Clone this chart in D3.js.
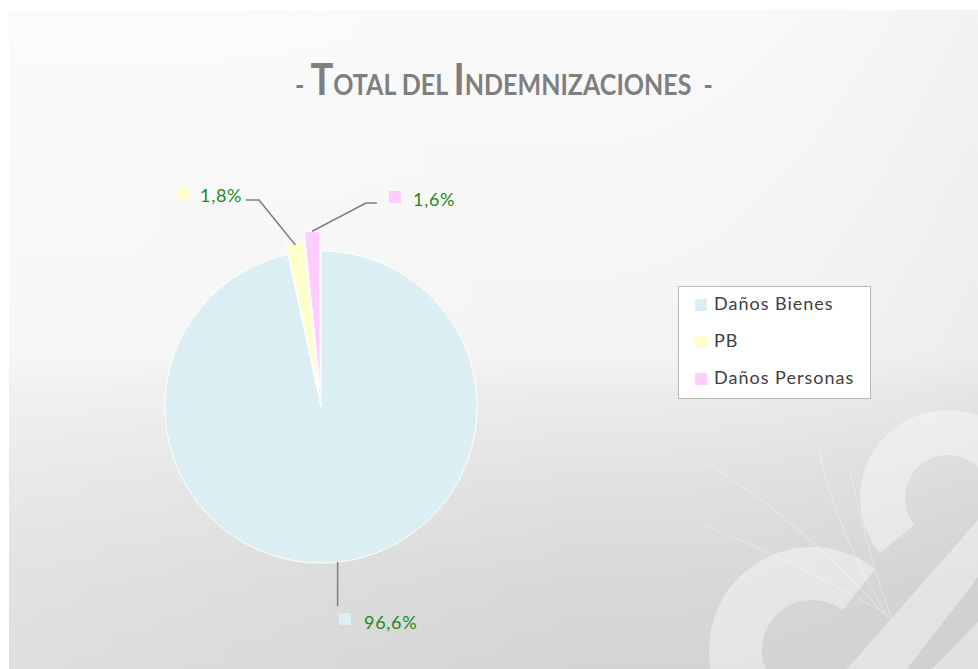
<!DOCTYPE html>
<html>
<head>
<meta charset="utf-8">
<script src="https://cdn.jsdelivr.net/npm/d3@7"></script>
<style>
  html, body { margin: 0; padding: 0; background: #ffffff; }
  svg { display: block; }
</style>
</head>
<body>
<svg id="chart" width="978" height="669"></svg>
<script>
// Chart data
const categories = ["Daños Bienes", "PB", "Daños Personas"];
const values = [96.6, 1.8, 1.6];
const sliceColors = ["#daeef3", "#ffffcc", "#ffccff"];
const explode = [0, 10, 20];
const titleParts = [
  { text: "- ", big: false },
  { text: "T", big: true },
  { text: "OTAL DEL ", big: false },
  { text: "I", big: true },
  { text: "NDEMNIZACIONES  -", big: false }
];

const W = 978, H = 669;
const FONT = "Lato, 'Open Sans', sans-serif";
const svg = d3.select("#chart");
const defs = svg.append("defs");

// Panel background: light on top, grey towards the bottom
const bg = defs.append("linearGradient").attr("id", "bgGrad")
  .attr("x1", 0).attr("y1", 0).attr("x2", 0).attr("y2", 1);
[[0, "#fafafa"], [0.52, "#f4f4f4"], [0.58, "#ececec"], [0.72, "#e1e1e1"],
 [0.87, "#d8d8d8"], [1, "#d4d4d4"]].forEach(([o, c]) =>
  bg.append("stop").attr("offset", o).attr("stop-color", c));

const side = defs.append("linearGradient").attr("id", "sideGrad")
  .attr("x1", 0).attr("y1", 0).attr("x2", 1).attr("y2", 0);
side.append("stop").attr("offset", 0).attr("stop-color", "#ffffff").attr("stop-opacity", 0.25);
side.append("stop").attr("offset", 0.6).attr("stop-color", "#ffffff").attr("stop-opacity", 0);
side.append("stop").attr("offset", 1).attr("stop-color", "#000000").attr("stop-opacity", 0.03);

const panel = { x: 9, y: 10 };
svg.append("rect").attr("x", panel.x).attr("y", panel.y)
  .attr("width", W - panel.x).attr("height", H - panel.y).attr("fill", "url(#bgGrad)");
svg.append("rect").attr("x", panel.x).attr("y", panel.y)
  .attr("width", W - panel.x).attr("height", H - panel.y).attr("fill", "url(#sideGrad)");

// Watermark logo in the lower right corner
const wm = svg.append("g").attr("fill", "#ffffff").attr("fill-opacity", 0.4);
const ring = d3.arc();
wm.append("path").attr("transform", "translate(948,498)")
  .attr("d", ring({ innerRadius: 43, outerRadius: 88, startAngle: -2.25, endAngle: 2.2 }));
wm.append("path").attr("transform", "translate(812,650)")
  .attr("d", ring({ innerRadius: 50, outerRadius: 103, startAngle: -2.6, endAngle: 0.66 }));
wm.append("path").attr("d", "M847,669 L907,669 L978,577 L978,520 Z");
wm.append("path").attr("d", "M932,669 L978,669 L978,622 Z");

const plume = svg.append("g").attr("fill", "none").attr("stroke", "#ffffff")
  .attr("stroke-opacity", 0.3).attr("stroke-width", 1.3);
["M888,618 Q835,530 818,445", "M884,614 Q800,520 705,462", "M892,620 Q865,545 850,470",
 "M880,610 Q790,560 705,525"].forEach(d => plume.append("path").attr("d", d));

// Title (small-caps style: large initials), squeezed horizontally to its width
const titleG = svg.append("g");
const titleInner = titleG.append("g");
let cursor = 0;
titleParts.forEach(p => {
  const t = titleInner.append("text")
    .attr("x", cursor).attr("y", 0)
    .attr("font-family", FONT)
    .attr("font-weight", "bold")
    .attr("font-size", p.big ? 44 : 29)
    .attr("fill", "#7f7f7f")
    .style("white-space", "pre")
    .text(p.text);
  cursor += t.node().getComputedTextLength();
});
const titleScale = 418 / cursor;
titleG.attr("transform", `translate(295,95) scale(${titleScale},1)`);

// Pie
const cx = 321, cy = 407, R = 156;
const pie = d3.pie().sort(null).value(d => d.value).startAngle(0).endAngle(2 * Math.PI);
const data = categories.map((c, i) => ({ name: c, value: values[i], color: sliceColors[i], ex: explode[i] }));
const arcs = pie(data);
const arc = d3.arc().innerRadius(0).outerRadius(R);

const g = svg.append("g").attr("transform", `translate(${cx},${cy})`);
const mid = a => (a.startAngle + a.endAngle) / 2;
const pt = (ang, r) => [r * Math.sin(ang), -r * Math.cos(ang)];

g.selectAll("path.slice").data(arcs).enter().append("path")
  .attr("class", "slice")
  .attr("transform", d => { const [dx, dy] = pt(mid(d), d.data.ex); return `translate(${dx},${dy})`; })
  .attr("d", arc)
  .attr("fill", d => d.data.color)
  .attr("stroke", "#ffffff").attr("stroke-width", 1);

// Data labels with leader lines (offsets relative to the pie centre)
const fmt = v => d3.format(".1f")(v).replace(".", ",") + "%";
const labelLayout = [
  { mx: 18, my: 206, tx: 43, ty: 222,
    path: d => { const [x, y] = pt(mid(d), R); return [[x, y], [x, 199]]; } },
  { mx: -144, my: -220, tx: -121, ty: -205,
    path: d => { const [x, y] = pt(mid(d), R + d.data.ex - 2); return [[x, y], [-62, -207], [-75, -207]]; } },
  { mx: 68, my: -216, tx: 92, ty: -201,
    path: d => { const [x, y] = pt(mid(d), R + d.data.ex); return [[x, y], [45, -204], [56, -204]]; } }
];

arcs.forEach((d, i) => {
  const L = labelLayout[i];
  g.append("path")
    .attr("d", d3.line()(L.path(d)))
    .attr("fill", "none").attr("stroke", "#7f7f7f").attr("stroke-width", 1.5);
  g.append("rect")
    .attr("x", L.mx).attr("y", L.my)
    .attr("width", 12).attr("height", 12)
    .attr("fill", d.data.color);
  g.append("text")
    .attr("x", L.tx).attr("y", L.ty)
    .attr("font-family", FONT)
    .attr("font-size", 18)
    .attr("letter-spacing", 0.7)
    .attr("fill", "#1e8a1e")
    .text(fmt(d.data.value));
});

// Legend
const legend = svg.append("g").attr("transform", "translate(678,286)");
legend.append("rect").attr("x", 0.5).attr("y", 0.5).attr("width", 192).attr("height", 112)
  .attr("fill", "#ffffff").attr("stroke", "#b8b8b8").attr("stroke-width", 1);
const items = legend.selectAll("g.item").data(data).enter().append("g")
  .attr("class", "item")
  .attr("transform", (d, i) => `translate(17,${24 + i * 37})`);
items.append("rect").attr("x", 0).attr("y", -11).attr("width", 12).attr("height", 12)
  .attr("fill", d => d.color);
items.append("text").attr("x", 19).attr("y", 0)
  .attr("font-family", FONT)
  .attr("font-size", 18)
  .attr("letter-spacing", 1)
  .attr("fill", "#404040")
  .text(d => d.name);
</script>
</body>
</html>
